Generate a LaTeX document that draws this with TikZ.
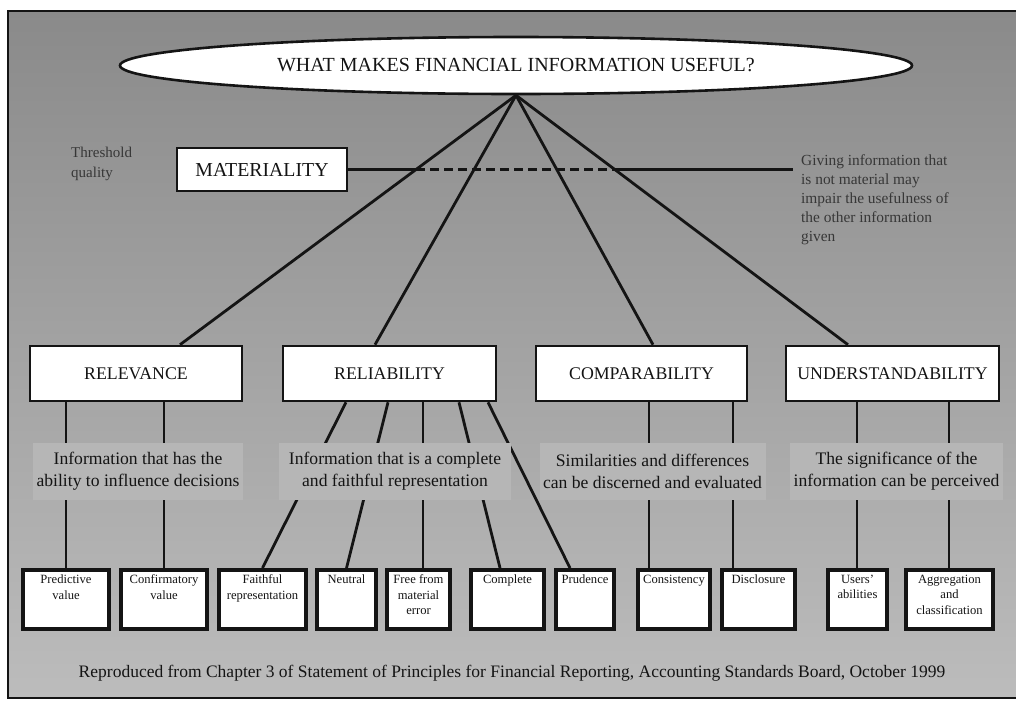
\documentclass[tikz,border=0pt]{standalone}
\usepackage{fontspec}
\setmainfont{Liberation Serif}
\usetikzlibrary{shapes.geometric,calc,intersections}
\pgfdeclarelayer{panel}
\pgfdeclarelayer{lines}
\pgfsetlayers{panel,lines,main}
\definecolor{bgtop}{RGB}{138,138,138}
\definecolor{bgbot}{RGB}{188,188,188}
\definecolor{descbg}{RGB}{182,182,182}
\definecolor{ink}{RGB}{20,20,20}
\newcommand\myfs[2]{\fontsize{#1}{#2}\selectfont}
\newcommand\sbtext[2]{\parbox[t][49pt][t]{#1}{\centering #2}}
\begin{document}
\begin{tikzpicture}[x=1pt,y=-1pt,
  conn/.style={line width=2.8pt, draw=ink},
  bigbox/.style={draw=ink, fill=white, line width=2.6pt, inner sep=0pt, text=ink, font=\myfs{17.8}{20}, minimum height=55pt},
  desc/.style={fill=descbg, align=center, inner sep=0pt, text=ink, font=\myfs{17.6}{22}, minimum height=57pt},
  smallbox/.style={draw=ink, fill=white, line width=3.6pt, inner xsep=0pt, inner ysep=5pt, anchor=north, text=ink, font=\myfs{12.6}{15.5}},
  side/.style={anchor=north west, align=left, inner sep=0pt, text=ink!85!white}
]
\useasboundingbox (0,0) rectangle (1016,702);

% panel
\begin{pgfonlayer}{panel}
\fill[white] (0,0) rectangle (1016,702);
\shade[top color=bgtop, bottom color=bgbot] (8,11) rectangle (1040,698);
\draw[line width=2.5pt, ink] (1040,11) -- (8,11) -- (8,698) -- (1040,698);
\end{pgfonlayer}

% title
\node[ellipse, draw=ink, fill=white, line width=2.6pt, minimum width=792pt, minimum height=57pt, inner sep=0pt, text=ink, font=\myfs{20}{22}] (q) at (516,65.5) {WHAT MAKES FINANCIAL INFORMATION USEFUL?};

% materiality
\node[bigbox, minimum width=170pt, minimum height=43pt, font=\myfs{19.8}{22}] (mat) at (262,169.5) {MATERIALITY};
\node[side, font=\myfs{15}{20}] (thr) at (71,147) {Threshold\\quality};
\node[side, font=\myfs{15.4}{19}] (giv) at (801,154) {Giving information that\\is not material may\\impair the usefulness of\\the other information\\given};

% level 2
\node[bigbox, minimum width=212pt] (rel) at (136,373.5) {RELEVANCE};
\node[bigbox, minimum width=213pt] (rely) at (389.5,373.5) {RELIABILITY};
\node[bigbox, minimum width=211pt] (comp) at (641.5,373.5) {COMPARABILITY};
\node[bigbox, minimum width=213pt] (und) at (892.5,373.5) {UNDERSTANDABILITY};

% descriptions
\node[desc, minimum width=210pt] (drel) at (138,471.5) {Information that has the\\ability to influence decisions};
\node[desc, minimum width=232pt] (drely) at (395,471.5) {Information that is a complete\\and faithful representation};
\node[desc, minimum width=226pt] (dcomp) at (652.5,471.5) {Similarities and differences\\can be discerned and evaluated};
\node[desc, minimum width=213pt] (dund) at (896.5,471.5) {The significance of the\\information can be perceived};

% small boxes
\node[smallbox, minimum width=86pt] (s1) at (66,568) {\sbtext{82pt}{Predictive\\value}};
\node[smallbox, minimum width=86pt] (s2) at (164,568) {\sbtext{82pt}{Confirmatory\\value}};
\node[smallbox, minimum width=87pt] (s3) at (262.5,568) {\sbtext{85pt}{Faithful\\representation}};
\node[smallbox, minimum width=59pt] (s4) at (346.5,568) {\sbtext{55pt}{Neutral}};
\node[smallbox, minimum width=63pt] (s5) at (418.5,568) {\sbtext{59pt}{Free from\\material\\error}};
\node[smallbox, minimum width=73pt] (s6) at (507.5,568) {\sbtext{69pt}{Complete}};
\node[smallbox, minimum width=58pt] (s7) at (585,568) {\sbtext{54pt}{Prudence}};
\node[smallbox, minimum width=72pt] (s8) at (674,568) {\sbtext{68pt}{Consistency}};
\node[smallbox, minimum width=73pt] (s9) at (758.5,568) {\sbtext{69pt}{Disclosure}};
\node[smallbox, minimum width=59pt] (s10) at (857.5,568) {\sbtext{55pt}{Users'\\abilities}};
\node[smallbox, minimum width=87pt] (s11) at (949.5,568) {\sbtext{84pt}{Aggregation\\and\\classification}};

% footer
\node[text=ink, font=\myfs{17.5}{19}] (foot) at (512,673) {Reproduced from Chapter 3 of Statement of Principles for Financial Reporting, Accounting Standards Board, October 1999};

% connectors
\begin{pgfonlayer}{lines}
\coordinate (relT) at ([xshift=44pt]rel.north);
\coordinate (relyT) at ([xshift=-14.5pt]rely.north);
\coordinate (compT) at ([xshift=11.5pt]comp.north);
\coordinate (undT) at ([xshift=-44.5pt]und.north);
\draw[conn, name path=a1] (q.south) -- (relT);
\draw[conn] (q.south) -- (relyT);
\draw[conn] (q.south) -- (compT);
\draw[conn, name path=a4] (q.south) -- (undT);
\coordinate (mend) at ([xshift=-8pt]mat.east -| giv.west);
\path[name path=mline] (mat.east) -- (mend);
\path[name intersections={of=mline and a1, by=m1}];
\path[name intersections={of=mline and a4, by=m2}];
\draw[conn] (mat.east) -- (m1);
\draw[conn, dash pattern=on 9pt off 5pt] (m1) -- (m2);
\draw[conn] (m2) -- (mend);

\draw[conn] ([xshift=-70pt]rel.south) -- (s1.north);
\draw[conn] ([xshift=28pt]rel.south) -- (s2.north);
\draw[conn] ([xshift=-43.5pt]rely.south) -- (s3.north);
\draw[conn] ([xshift=-1.5pt]rely.south) -- (s4.north);
\draw[conn] ([xshift=33.5pt]rely.south) -- ([xshift=4.5pt]s5.north);
\draw[conn] ([xshift=69.5pt]rely.south) -- ([xshift=-7.5pt]s6.north);
\draw[conn] ([xshift=98.5pt]rely.south) -- ([xshift=-15pt]s7.north);
\draw[conn] ([xshift=7.5pt]comp.south) -- ([xshift=-25pt]s8.north);
\draw[conn] ([xshift=91.5pt]comp.south) -- ([xshift=-25.5pt]s9.north);
\draw[conn] ([xshift=-35.5pt]und.south) -- ([xshift=-0.5pt]s10.north);
\draw[conn] ([xshift=56.5pt]und.south) -- ([xshift=-0.5pt]s11.north);
\end{pgfonlayer}
\end{tikzpicture}
\end{document}
